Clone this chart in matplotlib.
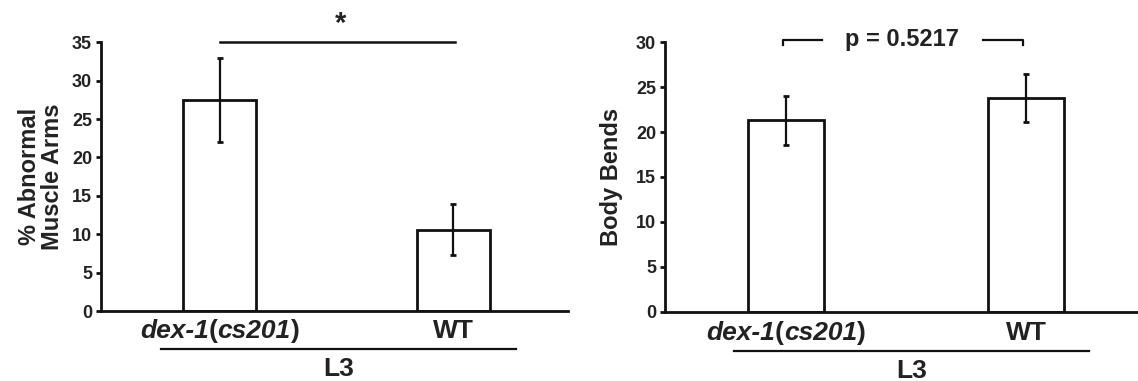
import matplotlib
matplotlib.use("Agg")
import matplotlib.pyplot as plt
from matplotlib.offsetbox import TextArea, HPacker, AnnotationBbox

plt.rcParams['font.family'] = ['Liberation Sans', 'DejaVu Sans']
plt.rcParams['font.weight'] = 'bold'

# data
groups = ["dex-1(cs201)", "WT"]
muscle_arms = [27.5, 10.6]
muscle_arms_err = [5.5, 3.3]
body_bends = [21.3, 23.8]
body_bends_err = [2.75, 2.7]
stage = "L3"
p_text = "p = 0.5217"

ink = "#111111"
fig = plt.figure(figsize=(11.38, 3.81), dpi=100)
ax1 = fig.add_axes([0.0888, 0.1837, 0.4104, 0.7055])
ax2 = fig.add_axes([0.5844, 0.1820, 0.4156, 0.7070])


def style_axis(ax, ylim, yticks, xlim):
    ax.set_xlim(*xlim)
    ax.set_ylim(*ylim)
    ax.set_yticks(yticks)
    ax.set_xticks([])
    for s in ["top", "right"]:
        ax.spines[s].set_visible(False)
    for s in ["left", "bottom"]:
        ax.spines[s].set_linewidth(2)
        ax.spines[s].set_color(ink)
    ax.tick_params(axis="y", length=3.5, width=2, color=ink, labelsize=13, pad=3)
    for lab in ax.get_yticklabels():
        lab.set_fontweight("bold")
        lab.set_color("#222222")


def draw_bars(ax, vals, errs, width):
    x = list(range(len(vals)))
    ax.bar(x, vals, width=width, color="white", edgecolor=ink, linewidth=2, zorder=2)
    ax.errorbar(x, vals, yerr=errs, fmt="none", ecolor=ink, elinewidth=1.6,
                capsize=2.5, capthick=2, zorder=3)


def group_labels(ax, ylab, yline, ytext, line_x):
    # first label: italic gene name with upright brackets
    parts = [("dex-1", "italic"), ("(", "normal"), ("cs201", "italic"), (")", "normal")]
    boxes = [TextArea(t, textprops=dict(fontsize=19, fontweight="bold", fontstyle=st,
                                        color="#222222", family="Liberation Sans"))
             for t, st in parts]
    pack = HPacker(children=boxes, pad=0, sep=0, align="baseline")
    ab = AnnotationBbox(pack, (0, ylab), xycoords=("data", "axes fraction"),
                        box_alignment=(0.5, 0.5), frameon=False, annotation_clip=False)
    ax.add_artist(ab)
    ax.text(1, ylab, groups[1], transform=ax.get_xaxis_transform(), ha="center",
            va="center", fontsize=19, fontweight="bold", color="#222222")
    ax.plot(line_x, [yline, yline], transform=ax.get_xaxis_transform(), color=ink,
            lw=1.6, clip_on=False)
    ax.text((line_x[0] + line_x[1]) / 2, ytext, stage, transform=ax.get_xaxis_transform(),
            ha="center", va="center", fontsize=19, fontweight="bold", color="#222222")


# left panel
style_axis(ax1, (0, 35), range(0, 36, 5), (-0.5075, 1.4925))
draw_bars(ax1, muscle_arms, muscle_arms_err, 0.313)
ax1.set_ylabel("% Abnormal\nMuscle Arms", fontsize=17, fontweight="bold",
               color="#222222", linespacing=1.0, labelpad=6)
ax1.plot([0, 1.01], [35, 35], color=ink, lw=1.8, clip_on=False)
ax1.text(0.52, 35.6, "*", ha="center", va="bottom", fontsize=21, fontweight="bold",
         color="#222222")
group_labels(ax1, -0.075, -0.141, -0.215, [-0.25, 1.27])

# right panel
style_axis(ax2, (0, 30), range(0, 31, 5), (-0.504, 1.467))
draw_bars(ax2, body_bends, body_bends_err, 0.317)
ax2.set_ylabel("Body Bends", fontsize=17, fontweight="bold", color="#222222",
               labelpad=9)
ax2.plot([-0.0125, -0.0125, 0.15], [29.7, 30.3, 30.3], color=ink, lw=1.6, clip_on=False)
ax2.plot([0.82, 0.9875, 0.9875], [30.3, 30.3, 29.7], color=ink, lw=1.6, clip_on=False)
ax2.text(0.483, 30.3, p_text, ha="center", va="center", fontsize=17, fontweight="bold",
         color="#222222")
group_labels(ax2, -0.08, -0.146, -0.22, [-0.217, 1.2625])

fig.savefig("out.png", dpi=100, facecolor="white")
